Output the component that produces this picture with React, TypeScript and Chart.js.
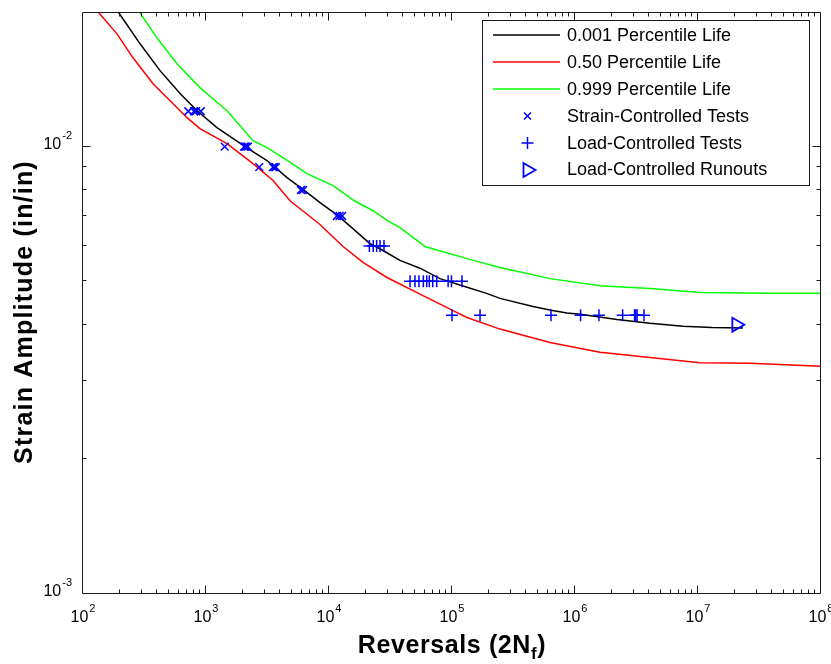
import { useEffect, useRef } from 'react';
import { Chart, registerables } from 'chart.js';

Chart.register(...registerables);

// ---- axis ranges ----
const X_MIN = 100;
const X_MAX = 1e8;
const Y_MIN = 1e-3;
const Y_MAX = 0.02;

// ---- curves (reversals, strain amplitude) ----
const BLACK_X = [182, 196, 291, 423, 615, 846, 1228, 2076, 3131, 4560, 6030, 7690, 8450, 11840, 21530, 27480, 37740, 54920, 79800, 132400, 191000, 245700, 456000, 638000, 861000, 1110000, 2190000, 4070000, 7550000, 13000000, 23200000];
const BLACK_Y = [0.0205, 0.0199, 0.01698, 0.01479, 0.01314, 0.01203, 0.01103, 0.0100, 0.00931, 0.00853, 0.00806, 0.00765, 0.0075, 0.00701, 0.00607, 0.00586, 0.00557, 0.00535, 0.00507, 0.00485, 0.0047, 0.00458, 0.00439, 0.00431, 0.00425, 0.00422, 0.00411, 0.00403, 0.00397, 0.00394, 0.00393];

const RED_X = [125, 135, 189, 255, 371, 540, 701, 893, 1482, 2411, 3507, 4822, 8450, 13000, 18900, 29600, 54920, 102000, 132400, 245700, 626000, 1596000, 4070000, 10370000, 26500000, 100000000];
const RED_Y = [0.0206, 0.0199, 0.01787, 0.0158, 0.01383, 0.01247, 0.01161, 0.01097, 0.01016, 0.00916, 0.0084, 0.00757, 0.0067, 0.00598, 0.00551, 0.0051, 0.00468, 0.0043, 0.00415, 0.00391, 0.00365, 0.00347, 0.00338, 0.00329, 0.00328, 0.00323];

const GREEN_X = [275, 291, 400, 581, 893, 1482, 2411, 3131, 4230, 6620, 10780, 16000, 22790, 29650, 37740, 54920, 60300, 132400, 169000, 245700, 626000, 1596000, 4070000, 10370000, 36400000, 100000000];
const GREEN_Y = [0.0206, 0.0199, 0.01749, 0.01533, 0.01355, 0.01203, 0.01031, 0.00995, 0.00945, 0.0087, 0.00818, 0.00758, 0.00719, 0.00684, 0.00659, 0.0061, 0.00598, 0.00562, 0.00552, 0.00537, 0.00507, 0.00489, 0.00482, 0.00472, 0.0047, 0.0047];

// ---- test points ----
const STRAIN_X = [718, 800, 830, 906, 1420, 2040, 2080, 2130, 2190, 2710, 3500, 3600, 3700, 5920, 6150, 11600, 12200, 12800];
const STRAIN_Y = [0.012, 0.012, 0.012, 0.012, 0.01, 0.01, 0.01, 0.01, 0.01, 0.009, 0.009, 0.009, 0.009, 0.008, 0.008, 0.007, 0.007, 0.007];

const LOAD_X = [21300, 22900, 24400, 26000, 28000, 45600, 50000, 53900, 58500, 62300, 65400, 69700, 75100, 93000, 99000, 120500, 100000, 169000, 638000, 1110000, 1566000, 2440000, 3050000, 3120000, 3200000, 3640000];
const LOAD_Y = [0.006, 0.006, 0.006, 0.006, 0.006, 0.005, 0.005, 0.005, 0.005, 0.005, 0.005, 0.005, 0.005, 0.005, 0.005, 0.005, 0.0042, 0.0042, 0.0042, 0.0042, 0.0042, 0.0042, 0.0042, 0.0042, 0.0042, 0.0042];

const RUNOUT_X = [20500000];
const RUNOUT_Y = [0.004];

// ---- text & colours ----
const LEGEND_LABELS = [
  '0.001 Percentile Life',
  '0.50 Percentile Life',
  '0.999 Percentile Life',
  'Strain-Controlled Tests',
  'Load-Controlled Tests',
  'Load-Controlled Runouts',
];
const SERIES_COLORS = ['#000000', '#ff0000', '#00ff00', '#0000ff', '#0000ff', '#0000ff'];
const LEGEND_KINDS = ['line', 'line', 'line', 'x', 'plus', 'tri'];
const X_TICK_EXPONENTS = ['2', '3', '4', '5', '6', '7', '8'];
const Y_TICK_EXPONENTS = ['-3', '-2'];
const Y_TITLE = 'Strain Amplitude (in/in)';
const X_TITLE_MAIN = 'Reversals (2N';
const X_TITLE_SUB = 'f';
const X_TITLE_END = ')';

const FONT_FAMILY = '"Liberation Sans", Arial, Helvetica, sans-serif';
const MARKER_W = 1.5;
const CURVE_W = 1.5;

const toPts = (xs: number[], ys: number[]) => xs.map((x, i) => ({ x, y: ys[i] }));

const matlabPlugin = {
  id: 'matlabAxes',
  afterDraw(chart: any) {
    const { ctx, chartArea: a, scales } = chart;
    const xs = scales.x;
    const ys = scales.y;
    ctx.save();
    ctx.strokeStyle = '#1a1a1a';
    ctx.fillStyle = '#000';
    ctx.lineWidth = 1;

    // box
    const L = Math.round(a.left) - 0.5;
    const R = Math.round(a.right) - 0.5;
    const T = Math.round(a.top) + 0.5;
    const B = Math.round(a.bottom) - 0.5;
    ctx.beginPath();
    ctx.rect(L, T, R - L, B - T);
    ctx.stroke();

    // x ticks
    ctx.beginPath();
    for (let e = 2; e <= 8; e++) {
      for (let m = 1; m <= 9; m++) {
        const v = m * Math.pow(10, e);
        if (v > X_MAX * 1.0001) continue;
        const px = Math.round(xs.getPixelForValue(v)) - 0.5;
        if (px <= L + 1 || px >= R - 1) continue;
        const len = m === 1 ? 8 : 4;
        ctx.moveTo(px, B);
        ctx.lineTo(px, B - len);
        ctx.moveTo(px, T);
        ctx.lineTo(px, T + len);
      }
    }
    // y ticks
    for (let e = -3; e <= -2; e++) {
      for (let m = 1; m <= 9; m++) {
        const v = m * Math.pow(10, e);
        if (v > Y_MAX * 1.0001) continue;
        const py = Math.round(ys.getPixelForValue(v)) - 0.5;
        if (py <= T + 1 || py >= B - 1) continue;
        const len = m === 1 ? 8 : 4;
        ctx.moveTo(L, py);
        ctx.lineTo(L + len, py);
        ctx.moveTo(R, py);
        ctx.lineTo(R - len, py);
      }
    }
    ctx.stroke();

    // tick labels with superscripts
    const baseFont = '16px ' + FONT_FAMILY;
    const expFont = '11px ' + FONT_FAMILY;
    ctx.fillStyle = '#000';
    ctx.textBaseline = 'alphabetic';
    ctx.textAlign = 'left';
    X_TICK_EXPONENTS.forEach((ex) => {
      const px = xs.getPixelForValue(Math.pow(10, Number(ex)));
      ctx.font = baseFont;
      const wb = ctx.measureText('10').width;
      ctx.font = expFont;
      const we = ctx.measureText(ex).width;
      const start = px - (wb + 1 + we) / 2;
      ctx.font = baseFont;
      ctx.fillText('10', start, 622);
      ctx.font = expFont;
      ctx.fillText(ex, start + wb + 1, 612);
    });
    Y_TICK_EXPONENTS.forEach((ex) => {
      const py = ys.getPixelForValue(Math.pow(10, Number(ex)));
      ctx.font = baseFont;
      const wb = ctx.measureText('10').width;
      ctx.font = expFont;
      const we = ctx.measureText(ex).width;
      const right = 72;
      const start = right - (wb + 1 + we);
      ctx.font = baseFont;
      ctx.fillText('10', start, py + 2);
      ctx.font = expFont;
      ctx.fillText(ex, start + wb + 1, py - 8);
    });

    // x title
    const tFont = 'bold 25px ' + FONT_FAMILY;
    const sFont = 'bold 17px ' + FONT_FAMILY;
    (ctx as any).letterSpacing = '0.6px';
    ctx.font = tFont;
    const w1 = ctx.measureText(X_TITLE_MAIN).width;
    const w3 = ctx.measureText(X_TITLE_END).width;
    ctx.font = sFont;
    const w2 = ctx.measureText(X_TITLE_SUB).width;
    const cx = (a.left + a.right) / 2;
    let sx = cx - (w1 + w2 + w3) / 2;
    ctx.font = tFont;
    ctx.fillText(X_TITLE_MAIN, sx, 653);
    sx += w1;
    ctx.font = sFont;
    ctx.fillText(X_TITLE_SUB, sx, 659);
    sx += w2;
    ctx.font = tFont;
    ctx.fillText(X_TITLE_END, sx, 653);

    // y title
    ctx.save();
    (ctx as any).letterSpacing = '1.2px';
    ctx.translate(32, 312);
    ctx.rotate(-Math.PI / 2);
    ctx.textAlign = 'center';
    ctx.font = tFont;
    ctx.fillText(Y_TITLE, 0, 0);
    ctx.restore();
    (ctx as any).letterSpacing = '0px';

    // legend
    const lx = 482.5, ly = 20.5, lw = 327, lh = 165;
    ctx.fillStyle = '#fff';
    ctx.fillRect(lx, ly, lw, lh);
    ctx.strokeStyle = '#1a1a1a';
    ctx.lineWidth = 1;
    ctx.strokeRect(lx, ly, lw, lh);
    ctx.font = '18px ' + FONT_FAMILY;
    ctx.textBaseline = 'middle';
    ctx.textAlign = 'left';
    LEGEND_LABELS.forEach((label, i) => {
      const ry = 35 + i * 26.9;
      const yy = Math.round(ry);
      const kind = LEGEND_KINDS[i];
      ctx.strokeStyle = SERIES_COLORS[i];
      ctx.lineWidth = CURVE_W;
      ctx.beginPath();
      if (kind === 'line') {
        ctx.moveTo(493, yy);
        ctx.lineTo(560, yy);
      } else if (kind === 'x') {
        const mx = 527.5;
        const h = 3.5;
        ctx.lineWidth = MARKER_W;
        ctx.moveTo(mx - h, yy - h);
        ctx.lineTo(mx + h, yy + h);
        ctx.moveTo(mx - h, yy + h);
        ctx.lineTo(mx + h, yy - h);
      } else if (kind === 'plus') {
        const mx = 527.5;
        const h = 6;
        ctx.lineWidth = MARKER_W;
        ctx.moveTo(mx - h, yy);
        ctx.lineTo(mx + h, yy);
        ctx.moveTo(mx, yy - h);
        ctx.lineTo(mx, yy + h);
      } else {
        const mx = 527.5;
        const r = 8;
        ctx.lineWidth = 1.8;
        ctx.moveTo(mx + r, yy);
        ctx.lineTo(mx - r / 2, yy - r * 0.866);
        ctx.lineTo(mx - r / 2, yy + r * 0.866);
        ctx.closePath();
      }
      ctx.stroke();
      ctx.fillStyle = '#000';
      ctx.fillText(label, 567, ry + 1);
    });

    ctx.restore();
  },
};

export default function App() {
  const ref = useRef<HTMLCanvasElement>(null);
  useEffect(() => {
    document.body.style.margin = '0';
    const canvas = ref.current;
    if (!canvas) return;
    const chart = new Chart(canvas, {
      type: 'scatter',
      data: {
        datasets: [
          { label: LEGEND_LABELS[0], data: toPts(BLACK_X, BLACK_Y), showLine: true, borderColor: SERIES_COLORS[0], borderWidth: CURVE_W, pointRadius: 0, order: 2 },
          { label: LEGEND_LABELS[1], data: toPts(RED_X, RED_Y), showLine: true, borderColor: SERIES_COLORS[1], borderWidth: CURVE_W, pointRadius: 0, order: 2 },
          { label: LEGEND_LABELS[2], data: toPts(GREEN_X, GREEN_Y), showLine: true, borderColor: SERIES_COLORS[2], borderWidth: CURVE_W, pointRadius: 0, order: 2 },
          { label: LEGEND_LABELS[3], data: toPts(STRAIN_X, STRAIN_Y), showLine: false, pointStyle: 'crossRot', pointRadius: 5.5, borderColor: SERIES_COLORS[3], backgroundColor: 'rgba(0,0,0,0)', borderWidth: MARKER_W, order: 1 },
          { label: LEGEND_LABELS[4], data: toPts(LOAD_X, LOAD_Y), showLine: false, pointStyle: 'cross', pointRadius: 6, borderColor: SERIES_COLORS[4], backgroundColor: 'rgba(0,0,0,0)', borderWidth: MARKER_W, order: 1 },
          { label: LEGEND_LABELS[5], data: toPts(RUNOUT_X, RUNOUT_Y), showLine: false, pointStyle: 'triangle', rotation: 90, pointRadius: 8, borderColor: SERIES_COLORS[5], backgroundColor: 'rgba(0,0,0,0)', borderWidth: 1.8, order: 1 },
        ] as any,
      },
      options: {
        responsive: false,
        animation: false,
        layout: { padding: { left: 83, right: 10, top: 12, bottom: 70 } },
        plugins: { legend: { display: false }, tooltip: { enabled: false } },
        scales: {
          x: { type: 'logarithmic', min: X_MIN, max: X_MAX, display: false },
          y: { type: 'logarithmic', min: Y_MIN, max: Y_MAX, display: false },
        },
      } as any,
      plugins: [matlabPlugin],
    });
    return () => chart.destroy();
  }, []);
  return <canvas ref={ref} width={831} height={664} style={{ display: 'block' }} />;
}
